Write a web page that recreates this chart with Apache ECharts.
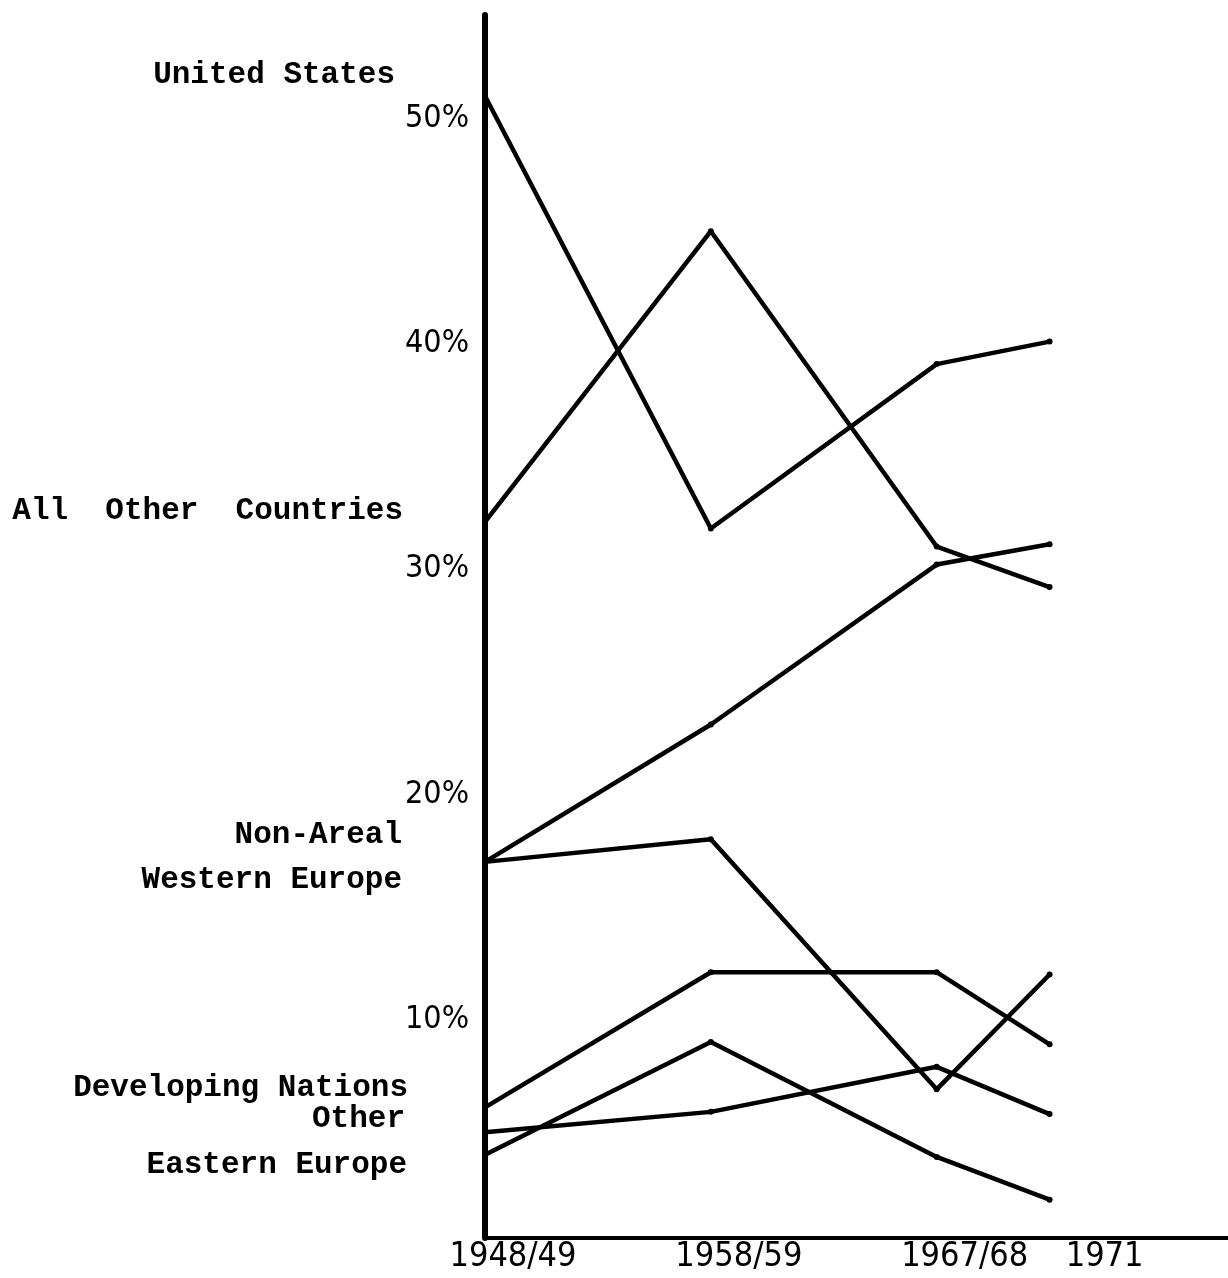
<!DOCTYPE html>
<html>
<head>
<meta charset="UTF-8">
<title>Regional shares 1948-1971</title>
<script src="https://cdn.jsdelivr.net/npm/echarts@6/dist/echarts.min.js"></script>
<style>
    html, body { margin: 0; padding: 0; background: #fff; }
    #main { width: 1228px; height: 1278px; }
</style>
</head>
<body>
<div id="main"></div>
<script>
    // periods and where they sit on the x scale (last one is a half step)
    var periods = ['1948/49', '1958/59', '1967/68', '1971'];
    var periodPos = [0, 1, 2, 2.5];

    // shares in percent
    var unitedStates  = [51.0, 31.8, 39.1, 40.1];
    var allOther      = [32.1, 45.0, 31.0, 29.2];
    var westernEurope = [17.0, 23.1, 30.2, 31.1];
    var nonAreal      = [17.0, 18.0, 6.9, 12.0];
    var developing    = [6.1, 12.1, 12.1, 8.9];
    var otherNations  = [5.0, 5.9, 7.9, 5.8];
    var easternEurope = [4.0, 9.0, 3.9, 2.0];

    var yTicks = [10, 20, 30, 40, 50];

    var chart = echarts.init(document.getElementById('main'));

    var toPoints = function(vals) {
        return vals.map(function(v, i) { return [periodPos[i], v]; });
    };

    var makeLine = function(name, vals) {
        return {
            name: name,
            type: 'line',
            data: toPoints(vals),
            symbol: 'circle',
            symbolSize: 6,
            itemStyle: { color: '#000' },
            lineStyle: { color: '#000', width: 4.5, cap: 'round', join: 'round' },
            emphasis: { disabled: true }
        };
    };

    var labelFont = "'Liberation Mono', 'DejaVu Sans Mono', monospace";
    var sideText = function(text, x, y) {
        return {
            type: 'text',
            x: x,
            y: y,
            style: {
                text: text,
                fill: '#000',
                font: 'bold 31px ' + labelFont,
                textAlign: 'right',
                textVerticalAlign: 'middle'
            }
        };
    };

    var handFont = "'DejaVu Sans Condensed', 'Liberation Sans Narrow', Lato, sans-serif";

    option = {
        animation: false,
        backgroundColor: '#fff',
        grid: { left: 485, right: 0, top: 15, bottom: 40 },
        xAxis: {
            type: 'value',
            min: 0,
            max: 3.29,
            interval: 0.5,
            axisLine: { onZero: false, lineStyle: { color: '#000', width: 4 } },
            axisTick: { show: false },
            splitLine: { show: false },
            axisLabel: {
                margin: 2,
                showMaxLabel: false,
                color: '#000',
                fontFamily: handFont,
                fontSize: 34,
                formatter: function(val) {
                    var i = periodPos.indexOf(val);
                    if (i < 0) return '';
                    return (i == 3 ? '{b|' : '{a|') + periods[i] + '}';
                },
                rich: {
                    a: { fontFamily: handFont, fontSize: 34, color: '#000', padding: [0, 0, 0, 56] },
                    b: { fontFamily: handFont, fontSize: 34, color: '#000', padding: [0, 0, 0, 110] }
                }
            }
        },
        yAxis: {
            type: 'value',
            min: 0.3,
            max: 54.6,
            splitNumber: 5,
            minInterval: 10,
            maxInterval: 10,
            axisLine: { show: true, lineStyle: { color: '#000', width: 6 } },
            axisTick: { show: false },
            splitLine: { show: false },
            axisLabel: {
                margin: 16,
                color: '#000',
                fontFamily: handFont,
                fontSize: 32,
                showMinLabel: false,
                showMaxLabel: false,
                formatter: function(val) {
                    for (var i = 0; i < yTicks.length; i++) {
                        if (Math.abs(val - yTicks[i]) < 0.01) return yTicks[i] + '%';
                    }
                    return '';
                }
            }
        },
        graphic: [
            sideText('United States', 395, 75),
            sideText('All  Other  Countries', 403, 511),
            sideText('Non-Areal', 402, 835),
            sideText('Western Europe', 402, 880),
            sideText('Developing Nations', 408, 1088),
            sideText('Other', 405, 1119),
            sideText('Eastern Europe', 407, 1165)
        ],
        series: [
            makeLine('United States', unitedStates),
            makeLine('All Other Countries', allOther),
            makeLine('Western Europe', westernEurope),
            makeLine('Non-Areal', nonAreal),
            makeLine('Developing Nations', developing),
            makeLine('Other', otherNations),
            makeLine('Eastern Europe', easternEurope)
        ]
    };
    chart.setOption(option);
</script>
</body>
</html>
